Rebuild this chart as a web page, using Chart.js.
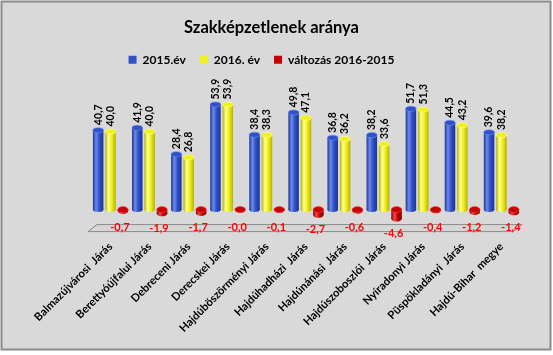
<!DOCTYPE html>
<html><head><meta charset="utf-8">
<script src="https://cdn.jsdelivr.net/npm/chart.js@4.4.0/dist/chart.umd.min.js"></script>
<style>
html,body{margin:0;padding:0;background:#fff;}
#wrap{position:relative;width:553px;height:355px;}
canvas{display:block;}
</style></head><body>
<div id="wrap"><canvas id="c" width="553" height="355"></canvas></div>
<script>
const categories = ['Balmazújvárosi  Járás','Berettyóújfalui Járás','Debreceni Járás','Derecskei Járás','Hajdúböszörményi Járás','Hajdúhadházi  Járás','Hajdúnánási  Járás','Hajdúszoboszlói  Járás','Nyíradonyi Járás','Püspökladányi  Járás','Hajdú-Bihar  megye'];
const values2015 = [40.7, 41.9, 28.4, 53.9, 38.4, 49.8, 36.8, 38.2, 51.7, 44.5, 39.6];
const values2016 = [40.0, 40.0, 26.8, 53.9, 38.3, 47.1, 36.2, 33.6, 51.3, 43.2, 38.2];
const changes = [-0.7, -1.9, -1.7, -0.04, -0.1, -2.7, -0.6, -4.6, -0.4, -1.2, -1.4];
const seriesNames = ['2015.év', '2016. év', 'változás 2016-2015'];

const FONT = 'Lato, "Open Sans", sans-serif';
const solid = ['#3052c8', '#f0f01e', '#c80000'];
const shades = [
  ['#1c3590', '#3052c8', '#6b8aec'],
  ['#b4b400', '#f0f01e', '#ffff96'],
  ['#800000', '#c80000', '#ee4a4a']
];
const fmt = v => v.toFixed(1).replace('.', ',');

const frame = {
  id: 'frame',
  beforeDraw(chart) {
    const c = chart.ctx;
    c.save();
    c.fillStyle = '#ffffff';
    c.fillRect(0, 0, chart.width, chart.height);
    c.fillStyle = '#d9d9d9';
    c.fillRect(1, 1, 550, 349);
    c.strokeStyle = '#8c8c8c';
    c.lineWidth = 2;
    c.strokeRect(1.5, 1.5, 549, 348);
    c.restore();
  },
  afterLayout(chart) {
    if (chart.legend) { chart.legend.left -= 10; chart.legend.right -= 10; }
  }
};

const cyl = {
  id: 'cyl',
  beforeDatasetsDraw(chart) {
    const c = chart.ctx;
    const ys = chart.scales.y;
    const a = chart.chartArea;
    const y0 = ys.getPixelForValue(0);
    const ft = y0 + 15, fb = y0 + 22;
    c.save();
    c.beginPath();
    c.moveTo(a.left - 3, fb);
    c.lineTo(a.left + 6, ft);
    c.lineTo(a.right + 1, ft);
    c.lineTo(a.right - 8, fb);
    c.closePath();
    c.fillStyle = '#d6d6d6';
    c.fill();
    c.strokeStyle = '#8a8a8a';
    c.lineWidth = 1;
    c.stroke();
    c.restore();
    chart.data.datasets.forEach((ds, i) => {
      const meta = chart.getDatasetMeta(i);
      const [dk, md, lt] = shades[i];
      meta.data.forEach(el => {
        const g = c.createLinearGradient(el.x - el.width / 2, 0, el.x + el.width / 2, 0);
        g.addColorStop(0, dk); g.addColorStop(0.3, lt); g.addColorStop(0.6, md); g.addColorStop(1, dk);
        el.options.backgroundColor = g;
        el._grad = g;
      });
    });
  },
  afterDatasetsDraw(chart) {
    const c = chart.ctx;
    c.save();
    chart.data.datasets.forEach((ds, i) => {
      const meta = chart.getDatasetMeta(i);
      const [dk, md, lt] = shades[i];
      meta.data.forEach(el => {
        const top = Math.min(el.y, el.base), bot = Math.max(el.y, el.base);
        const rx = el.width / 2, ry = i === 2 ? 3 : 2.5;
        c.beginPath();
        c.ellipse(el.x, bot, rx, ry, 0, 0, Math.PI * 2);
        c.fillStyle = el._grad; c.fill();
        c.beginPath();
        c.ellipse(el.x, top, rx, ry, 0, 0, Math.PI * 2);
        c.fillStyle = md; c.fill();
        c.strokeStyle = lt; c.lineWidth = 0.6; c.stroke();
      });
    });
    const ys = chart.scales.y;
    const y0 = ys.getPixelForValue(0);
    [0, 1].forEach(i => {
      const meta = chart.getDatasetMeta(i);
      meta.data.forEach((el, j) => {
        const v = chart.data.datasets[i].data[j];
        c.save();
        c.translate(el.x, el.y - 5);
        c.rotate(-Math.PI / 2);
        c.font = 'bold 10.5px ' + FONT;
        c.fillStyle = '#000';
        c.textAlign = 'left';
        c.textBaseline = 'middle';
        c.fillText(fmt(v), 0, 0);
        c.restore();
      });
    });
    const m2 = chart.getDatasetMeta(2);
    m2.data.forEach((el, j) => {
      const v = chart.data.datasets[2].data[j];
      const y = Math.max(el.y + 15, y0 + 18);
      c.font = 'bold 11px ' + FONT;
      c.fillStyle = '#ff0000';
      c.textAlign = 'center';
      c.textBaseline = 'middle';
      c.fillText(fmt(v), el.x - 3, y);
    });
    c.restore();
  }
};

new Chart(document.getElementById('c'), {
  type: 'bar',
  data: {
    labels: categories,
    datasets: [
      { label: seriesNames[0], data: values2015, backgroundColor: () => solid[0] },
      { label: seriesNames[1], data: values2016, backgroundColor: () => solid[1] },
      { label: seriesNames[2], data: changes, backgroundColor: () => solid[2] }
    ]
  },
  options: {
    responsive: false,
    animation: false,
    devicePixelRatio: 1,
    layout: { padding: { left: 2, right: 12, top: 10, bottom: 12 } },
    datasets: { bar: { categoryPercentage: 0.95, barPercentage: 0.85 } },
    plugins: {
      title: { display: true, text: 'Szakképzetlenek aránya', color: '#000', font: { family: FONT, size: 16.5, weight: 'bold' }, padding: { top: 8, bottom: 2 } },
      legend: { display: true, labels: { color: '#000', font: { family: FONT, size: 12, weight: 'bold' }, boxWidth: 8, boxHeight: 8, padding: 14,
        generateLabels: ch => ch.data.datasets.map((d, i) => ({ text: d.label, fillStyle: solid[i], strokeStyle: solid[i], lineWidth: 0, datasetIndex: i, fontColor: '#000' })) } },
      tooltip: { enabled: false }
    },
    scales: {
      x: {
        grid: { display: false, drawTicks: false },
        border: { display: false },
        ticks: { color: '#000', font: { family: FONT, size: 11.2, weight: 'bold' }, minRotation: 45, maxRotation: 45, padding: 0, autoSkip: false },
        afterFit: s => { s.height = 103; }
      },
      y: {
        min: -15.6, max: 68.6,
        grid: { display: false, drawTicks: false },
        border: { display: false },
        ticks: { display: false },
        afterFit: s => { s.width = 89; }
      },
      y2: {
        position: 'right',
        grid: { display: false, drawTicks: false },
        border: { display: false },
        ticks: { display: false },
        afterFit: s => { s.width = 20; }
      }
    }
  },
  plugins: [frame, cyl]
});
</script>
</body></html>
